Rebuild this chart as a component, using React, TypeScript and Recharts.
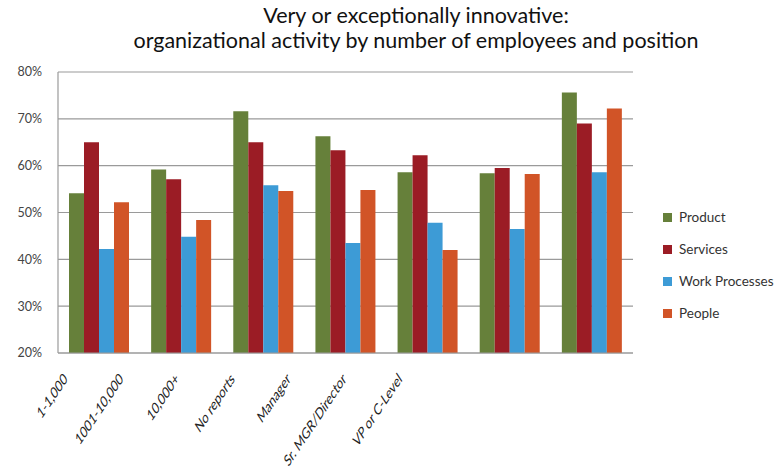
import { BarChart, Bar, XAxis, YAxis, CartesianGrid, Legend } from "recharts";

const categories = ["1-1,000", "1001-10,000", "10,000+", "No  reports", "Manager", "Sr. MGR/Director", "VP or C-Level"];
const product = [54.1, 59.2, 71.6, 66.3, 58.6, 58.4, 75.6];
const services = [65.0, 57.1, 65.0, 63.3, 62.2, 59.5, 69.0];
const workProcesses = [42.2, 44.8, 55.8, 43.5, 47.8, 46.5, 58.6];
const people = [52.2, 48.4, 54.6, 54.8, 42.0, 58.2, 72.2];
const yTicks = [20, 30, 40, 50, 60, 70, 80];

const SERIES = [
  { key: "Product", color: "#66803a", values: product },
  { key: "Services", color: "#9b1c25", values: services },
  { key: "Work Processes", color: "#3d9bd6", values: workProcesses },
  { key: "People", color: "#d15427", values: people },
];

const data = categories.map((c, i) => {
  const row: Record<string, string | number> = { name: c };
  SERIES.forEach((s) => (row[s.key] = s.values[i]));
  return row;
});

const FONT = "Lato, 'Noto Sans', sans-serif";

// the source image is squeezed sideways: labels sit left of their bars and look steeper
function XTick({ x, y, payload }: any) {
  const lx = 68 + (x - 99) * 0.679;
  return (
    <g transform={`translate(${lx},${y + 19}) scale(0.67,1)`}>
      <text textAnchor="end" transform="rotate(-45)" fontSize={16} fill="#222" fontFamily={FONT}>
        {payload.value}
      </text>
    </g>
  );
}

function LegendBox() {
  return (
    <div style={{ fontFamily: FONT, fontSize: 13.5, color: "#333" }}>
      {SERIES.map((s) => (
        <div key={s.key} style={{ display: "flex", alignItems: "center", height: 32 }}>
          <span style={{ width: 9, height: 9, background: s.color, marginRight: 7, flexShrink: 0 }} />
          <span>{s.key}</span>
        </div>
      ))}
    </div>
  );
}

export default function App() {
  return (
    <div style={{ position: "absolute", left: 0, top: 0, width: 777, height: 470, background: "#fff" }}>
      <div
        style={{
          position: "absolute",
          left: 0,
          top: 3,
          width: 832,
          textAlign: "center",
          fontFamily: FONT,
          fontSize: 21.5,
          lineHeight: "25px",
          color: "#111",
        }}
      >
        Very or exceptionally innovative:
        <br />
        organizational activity by number of employees and position
      </div>
      <BarChart
        width={777}
        height={470}
        data={data}
        margin={{ top: 72, right: 144, left: 0, bottom: 0 }}
        barCategoryGap={11}
        barGap={0}
      >
        <CartesianGrid vertical={false} stroke="#9a9a9a" strokeWidth={1.2} />
        <XAxis
          dataKey="name"
          height={117}
          interval={0}
          tickLine={false}
          axisLine={{ stroke: "#9a9a9a", strokeWidth: 1.2 }}
          tick={<XTick />}
        />
        <YAxis
          width={58}
          domain={[20, 80]}
          ticks={yTicks}
          tickFormatter={(v) => `${v}%`}
          tickLine={false}
          tickSize={6}
          tickMargin={10}
          axisLine={{ stroke: "#9a9a9a", strokeWidth: 1.2 }}
          tick={{ fontSize: 12.5, fill: "#444", fontFamily: FONT }}
        />
        <Legend
          layout="horizontal"
          verticalAlign="middle"
          align="center"
          content={<LegendBox />}
          wrapperStyle={{ left: 663, top: 201, width: 120 }}
        />
        {SERIES.map((s) => (
          <Bar key={s.key} dataKey={s.key} fill={s.color} isAnimationActive={false} />
        ))}
      </BarChart>
    </div>
  );
}
